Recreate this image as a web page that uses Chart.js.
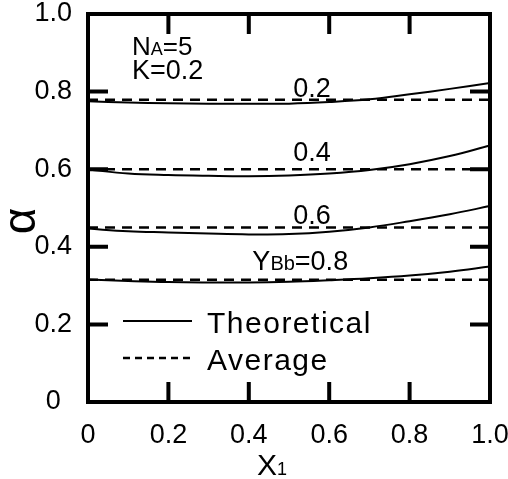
<!DOCTYPE html>
<html>
<head>
<meta charset="utf-8">
<title>alpha vs X1</title>
<script src="https://cdn.jsdelivr.net/npm/chart.js@4.4.1/dist/chart.umd.min.js"></script>
<style>
  html, body { margin: 0; padding: 0; background: #fff; }
  #wrap { width: 508px; height: 479px; }
</style>
</head>
<body>
<div id="wrap"><canvas id="alphaChart"></canvas></div>
<script>
// x1 grid for the theoretical curves
const x1Values = [0, 0.1, 0.2, 0.3, 0.4, 0.5, 0.6, 0.7, 0.8, 0.9, 1.0];

// theoretical alpha for each Y_Bb
const theory02 = [0.775, 0.772, 0.770, 0.769, 0.769, 0.769, 0.773, 0.780, 0.793, 0.807, 0.822];
const theory04 = [0.599, 0.589, 0.585, 0.583, 0.582, 0.584, 0.589, 0.598, 0.613, 0.634, 0.661];
const theory06 = [0.447, 0.440, 0.437, 0.434, 0.432, 0.433, 0.439, 0.450, 0.466, 0.484, 0.505];
const theory08 = [0.316, 0.312, 0.309, 0.308, 0.308, 0.310, 0.314, 0.319, 0.326, 0.336, 0.349];

// average alpha (dashed), same order
const averageAlpha = [0.779, 0.600, 0.450, 0.315];
const ybbValues = ['0.2', '0.4', '0.6', '0.8'];

const xTickLabels = ['0', '0.2', '0.4', '0.6', '0.8', '1.0'];
const yTickLabels = ['0', '0.2', '0.4', '0.6', '0.8', '1.0'];
// inner tick marks sit at the labelled values between the ends
const tickValues = [0.2, 0.4, 0.6, 0.8];

const FONT = '"Liberation Sans", Arial, sans-serif';
const TICK_LEN = 20;
const TICK_W = 4;

const theoryCurves = [theory02, theory04, theory06, theory08];
const datasets = [];
theoryCurves.forEach((curve, i) => {
    datasets.push({
        label: 'Theoretical ' + ybbValues[i],
        data: x1Values.map((x, j) => ({ x: x, y: curve[j] })),
        borderColor: '#000',
        borderWidth: 2,
        pointRadius: 0,
        tension: 0.4,
        fill: false
    });
    datasets.push({
        label: 'Average ' + ybbValues[i],
        data: [{ x: 0, y: averageAlpha[i] }, { x: 1, y: averageAlpha[i] }],
        borderColor: '#000',
        borderWidth: 2.5,
        borderDash: [10, 7],
        pointRadius: 0,
        fill: false
    });
});

function frameAxis(position, size, labels) {
    return {
        type: 'linear',
        position: position,
        min: 0,
        max: 1,
        grid: { display: false, drawTicks: false },
        border: { display: true, color: '#000', width: 4 },
        ticks: {
            stepSize: 0.2,
            color: '#000',
            font: { family: FONT, size: 27 },
            padding: position === 'left' ? 16 : 17,
            crossAlign: position === 'left' ? 'center' : 'near',
            maxRotation: 0,
            autoSkip: false,
            callback: (v, idx) => labels[idx]
        },
        afterFit: (scale) => {
            if (scale.isHorizontal()) scale.height = size;
            else scale.width = size;
            // fixed frame, no extra room for overhanging labels
            scale.paddingLeft = scale.paddingRight = 0;
            scale.paddingTop = scale.paddingBottom = 0;
        }
    };
}

// top/right sides of the box and the inward tick marks on every side
const boxTicks = {
    id: 'boxTicks',
    afterDatasetsDraw(chart) {
        const { ctx, chartArea: a, scales: { x, y } } = chart;
        ctx.save();
        ctx.fillStyle = '#000';
        ctx.fillRect(a.right - 2, a.top - 2, 4, a.bottom - a.top + 4);
        ctx.fillRect(a.left - 2, a.top - 2, a.right - a.left + 4, 4);
        ctx.strokeStyle = '#000';
        ctx.lineWidth = TICK_W;
        ctx.lineCap = 'butt';
        ctx.setLineDash([]);
        tickValues.forEach(v => {
            const px = x.getPixelForValue(v);
            const py = y.getPixelForValue(v);
            ctx.beginPath();
            ctx.moveTo(px, a.bottom);
            ctx.lineTo(px, a.bottom - TICK_LEN);
            ctx.moveTo(px, a.top);
            ctx.lineTo(px, a.top + TICK_LEN);
            ctx.moveTo(a.left, py);
            ctx.lineTo(a.left + TICK_LEN, py);
            ctx.moveTo(a.right, py);
            ctx.lineTo(a.right - TICK_LEN, py);
            ctx.stroke();
        });
        ctx.restore();
    }
};

function drawRuns(ctx, runs, x, baseline) {
    runs.forEach(r => {
        ctx.font = r.size + 'px ' + FONT;
        ctx.fillText(r.text, x, baseline);
        x += ctx.measureText(r.text).width;
    });
    return x;
}

function runsWidth(ctx, runs) {
    let w = 0;
    runs.forEach(r => {
        ctx.font = r.size + 'px ' + FONT;
        w += ctx.measureText(r.text).width;
    });
    return w;
}

const figureText = {
    id: 'figureText',
    afterDraw(chart) {
        const { ctx, scales } = chart;
        const xs = scales.x, ys = scales.y;
        ctx.save();
        ctx.fillStyle = '#000';
        ctx.strokeStyle = '#000';
        ctx.textAlign = 'left';
        ctx.textBaseline = 'alphabetic';

        // parameter block
        drawRuns(ctx, [{ text: 'N', size: 26 }, { text: 'A', size: 18 }, { text: '=5', size: 26 }], 132, 55);
        drawRuns(ctx, [{ text: 'K=0.2', size: 27 }], 132, 79);

        // Y_Bb labels sitting above each pair of curves
        const labelY = [0.785, 0.620, 0.458];
        for (let i = 0; i < 3; i++) {
            const runs = [{ text: ybbValues[i], size: 27 }];
            const w = runsWidth(ctx, runs);
            drawRuns(ctx, runs, xs.getPixelForValue(0.557) - w / 2, ys.getPixelForValue(labelY[i]));
        }
        const last = [
            { text: 'Y', size: 27 },
            { text: 'Bb', size: 20 },
            { text: '=' + ybbValues[3], size: 27 }
        ];
        const lw = runsWidth(ctx, last);
        drawRuns(ctx, last, xs.getPixelForValue(0.528) - lw / 2, ys.getPixelForValue(0.341));

        // legend
        ctx.lineWidth = 2;
        ctx.beginPath();
        ctx.moveTo(123, 321);
        ctx.lineTo(192, 321);
        ctx.stroke();
        ctx.lineWidth = 2.5;
        ctx.setLineDash([7, 5]);
        ctx.beginPath();
        ctx.moveTo(123, 358);
        ctx.lineTo(194, 358);
        ctx.stroke();
        ctx.setLineDash([]);
        ctx.letterSpacing = '1.5px';
        ctx.font = '30px ' + FONT;
        ctx.fillText('Theoretical', 207, 333);
        ctx.fillText('Average', 207, 370);
        ctx.letterSpacing = '0px';

        // axis titles
        drawRuns(ctx, [{ text: 'X', size: 30 }, { text: '1', size: 18 }], 257, 475);
        ctx.save();
        ctx.translate(22, 221);
        ctx.rotate(-Math.PI / 2);
        ctx.textAlign = 'center';
        ctx.textBaseline = 'middle';
        ctx.font = '46px ' + FONT;
        ctx.fillText('\u03b1', 0, 0);
        ctx.restore();

        ctx.restore();
    }
};

new Chart(document.getElementById('alphaChart'), {
    type: 'line',
    data: { datasets: datasets },
    options: {
        responsive: true,
        maintainAspectRatio: false,
        animation: false,
        layout: { padding: { top: 14, right: 18, left: 0, bottom: 0 } },
        plugins: {
            legend: { display: false },
            tooltip: { enabled: false }
        },
        scales: {
            x: frameAxis('bottom', 77, xTickLabels),
            y: frameAxis('left', 88, yTickLabels)
        }
    },
    plugins: [boxTicks, figureText]
});
</script>
</body>
</html>
